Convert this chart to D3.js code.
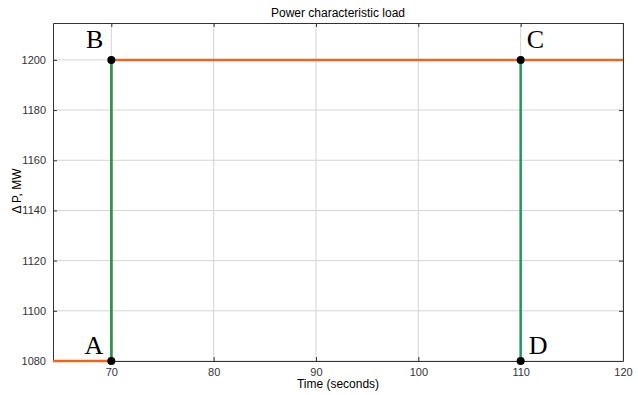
<!DOCTYPE html>
<html>
<head>
<meta charset="utf-8">
<script src="https://cdn.jsdelivr.net/npm/d3@7"></script>
<style>
  body { margin: 0; background: #fff; }
  svg { display: block; }
</style>
</head>
<body>
<div id="chart"></div>
<script>
const width = 638
const height = 395
const margins = { top: 23, right: 15, bottom: 34, left: 53 }

// DATA
const xTicks = [70, 80, 90, 100, 110, 120]
const yTicks = [1080, 1100, 1120, 1140, 1160, 1180, 1200]
const loadTime = [64.3, 70, 70, 120]
const loadPower = [1080, 1080, 1200, 1200]
const stepTime = [70, 110]
const pointLabels = ["A", "B", "C", "D"]
const pointTime = [70, 70, 110, 110]
const pointPower = [1080, 1200, 1200, 1080]

const svg = d3
  .select("#chart")
  .append("svg")
  .attr("width", width)
  .attr("height", height)

const xScale = d3
  .scaleLinear()
  .domain([64.3, 120])
  .range([margins.left, width - margins.right])
const yScale = d3
  .scaleLinear()
  .domain([1080, 1214.7])
  .range([height - margins.bottom, margins.top])

// GRID
svg
  .append("g")
  .selectAll("line")
  .data(xTicks)
  .join("line")
  .attr("x1", (d) => xScale(d))
  .attr("x2", (d) => xScale(d))
  .attr("y1", margins.top)
  .attr("y2", height - margins.bottom)
  .attr("stroke", "#d4d4d4")
svg
  .append("g")
  .selectAll("line")
  .data(yTicks)
  .join("line")
  .attr("x1", margins.left)
  .attr("x2", width - margins.right)
  .attr("y1", (d) => yScale(d))
  .attr("y2", (d) => yScale(d))
  .attr("stroke", "#d4d4d4")

// AXES
const fmt = d3.format("d")
const xAxis = svg
  .append("g")
  .attr("transform", `translate(0, ${height - margins.bottom})`)
  .call(d3.axisBottom(xScale).tickValues(xTicks).tickFormat(fmt).tickSizeInner(-4).tickSizeOuter(0).tickPadding(7))
const xAxisTop = svg
  .append("g")
  .attr("transform", `translate(0, ${margins.top})`)
  .call(d3.axisTop(xScale).tickValues(xTicks).tickSizeInner(-4).tickSizeOuter(0).tickFormat(""))
const yAxis = svg
  .append("g")
  .attr("transform", `translate(${margins.left}, 0)`)
  .call(d3.axisLeft(yScale).tickValues(yTicks).tickFormat(fmt).tickSizeInner(-4).tickSizeOuter(0).tickPadding(7))
const yAxisRight = svg
  .append("g")
  .attr("transform", `translate(${width - margins.right}, 0)`)
  .call(d3.axisRight(yScale).tickValues(yTicks).tickSizeInner(-4).tickSizeOuter(0).tickFormat(""))

svg
  .selectAll(".domain, .tick line")
  .attr("stroke", "#333")
svg
  .selectAll(".tick text")
  .style("font-family", "Liberation Sans, Arial, sans-serif")
  .style("font-size", "11px")
  .attr("fill", "#333")

// LINES
const lineGenerator = d3
  .line()
  .x((d) => xScale(d[0]))
  .y((d) => yScale(d[1]))

svg
  .append("path")
  .datum(loadTime.map((t, i) => [t, loadPower[i]]))
  .attr("d", lineGenerator)
  .attr("fill", "none")
  .attr("stroke", "#e0692c")
  .attr("stroke-width", 2.5)

svg
  .selectAll(".step")
  .data(stepTime)
  .join("line")
  .attr("class", "step")
  .attr("x1", (d) => xScale(d))
  .attr("x2", (d) => xScale(d))
  .attr("y1", yScale(1080))
  .attr("y2", yScale(1200))
  .attr("stroke", "#1f9a4f")
  .attr("stroke-width", 2.5)

// POINTS
svg
  .selectAll(".pt")
  .data(pointLabels)
  .join("circle")
  .attr("class", "pt")
  .attr("cx", (d, i) => xScale(pointTime[i]))
  .attr("cy", (d, i) => yScale(pointPower[i]))
  .attr("r", 4)
  .attr("fill", "#000")

const labelOffset = { A: [-8, -7, "end"], B: [-8, -12, "end"], C: [6, -12, "start"], D: [8, -7, "start"] }
svg
  .selectAll(".pt-label")
  .data(pointLabels)
  .join("text")
  .attr("class", "pt-label")
  .attr("x", (d, i) => xScale(pointTime[i]) + labelOffset[d][0])
  .attr("y", (d, i) => yScale(pointPower[i]) + labelOffset[d][1])
  .attr("text-anchor", (d) => labelOffset[d][2])
  .style("font-family", "Liberation Serif, Times New Roman, serif")
  .style("font-size", "26px")
  .text((d) => d)

// TITLES
svg
  .append("text")
  .attr("x", (margins.left + width - margins.right) / 2)
  .attr("y", 17)
  .attr("text-anchor", "middle")
  .style("font-family", "Liberation Sans, Arial, sans-serif")
  .style("font-size", "12px")
  .text("Power characteristic load")
svg
  .append("text")
  .attr("x", (margins.left + width - margins.right) / 2)
  .attr("y", 388)
  .attr("text-anchor", "middle")
  .style("font-family", "Liberation Sans, Arial, sans-serif")
  .style("font-size", "12px")
  .text("Time (seconds)")
svg
  .append("text")
  .attr("transform", `translate(21, 191) rotate(-90)`)
  .attr("text-anchor", "middle")
  .style("font-family", "Liberation Sans, Arial, sans-serif")
  .style("font-size", "12px")
  .text("Δ P, MW")
</script>
</body>
</html>
